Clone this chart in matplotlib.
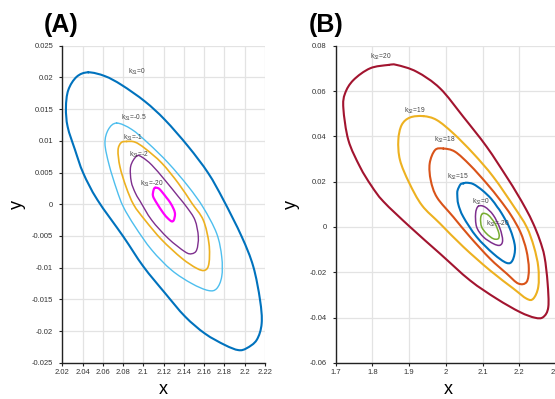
import numpy as np
import matplotlib
matplotlib.use("Agg")
import matplotlib.pyplot as plt
from matplotlib.path import Path
from matplotlib.patches import PathPatch

plt.rcParams['font.family'] = ['Liberation Sans', 'DejaVu Sans']
plt.rcParams['mathtext.default'] = 'regular'
plt.rcParams['axes.unicode_minus'] = False

# ---------------- Panel A data (k31 loops) ----------------
a_k0_x = [2.0457, 2.0621, 2.0786, 2.1016, 2.1213, 2.1443, 2.1640, 2.1789, 2.1970, 2.2084, 2.2151,
          2.2167, 2.2118, 2.2019, 2.1937, 2.1805, 2.1608, 2.1411, 2.1213, 2.0999, 2.0802, 2.0546,
          2.0407, 2.0325, 2.0253, 2.0236, 2.0259, 2.0342]
a_k0_y = [0.0208, 0.0202, 0.0188, 0.0162, 0.0133, 0.0091, 0.0049, 0.0007, -0.0051, -0.0098, -0.0151,
          -0.0188, -0.0214, -0.0227, -0.0230, -0.0222, -0.0204, -0.0177, -0.0140, -0.0098, -0.0051, 0.0007,
          0.0049, 0.0086, 0.0122, 0.0152, 0.0180, 0.0201]

a_km05_x = [2.0737, 2.0885, 2.1049, 2.1246, 2.1443, 2.1590, 2.1723, 2.1773, 2.1773, 2.1723, 2.1640,
            2.1477, 2.1279, 2.1082, 2.0917, 2.0802, 2.0737, 2.0662, 2.0621, 2.0655]
a_km05_y = [0.0128, 0.0118, 0.0096, 0.0065, 0.0028, -0.0005, -0.0046, -0.0083, -0.0114, -0.0133, -0.0136,
            -0.0125, -0.0104, -0.0072, -0.0035, -0.0004, 0.0023, 0.0062, 0.0096, 0.0118]

a_km1_x = [2.0835, 2.0917, 2.1016, 2.1181, 2.1345, 2.1477, 2.1591, 2.1647, 2.1647, 2.1608, 2.1526,
           2.1378, 2.1181, 2.1016, 2.0905, 2.0830, 2.0769, 2.0750, 2.0780]
a_km1_y = [0.0099, 0.0098, 0.0088, 0.0065, 0.0033, 0.0002, -0.0025, -0.0062, -0.0093, -0.0104, -0.0101,
           -0.0085, -0.0056, -0.0025, -0.0001, 0.0027, 0.0059, 0.0085, 0.0097]

a_km2_x = [2.0934, 2.0989, 2.1082, 2.1213, 2.1345, 2.1430, 2.1509, 2.1542, 2.1526, 2.1477, 2.1411,
           2.1246, 2.1082, 2.0967, 2.0920, 2.0880, 2.0875]
a_km2_y = [0.0076, 0.0074, 0.0062, 0.0038, 0.0012, -0.0005, -0.0025, -0.0051, -0.0072, -0.0078, -0.0075,
           -0.0054, -0.0025, 0.0005, 0.0018, 0.0036, 0.0060]

a_km20_x = [2.1115, 2.1150, 2.1181, 2.1230, 2.1263, 2.1300, 2.1312, 2.1300, 2.1279, 2.1240, 2.1197,
            2.1131, 2.1095, 2.1100]
a_km20_y = [0.0026, 0.0025, 0.0020, 0.0010, 0.0003, -0.0008, -0.0016, -0.0025, -0.0027, -0.0022, -0.0014,
            0.0002, 0.0013, 0.0022]

a_labels = ["k$_{31}$=0", "k$_{31}$=-0.5", "k$_{31}$=-1", "k$_{31}$=-2", "k$_{31}$=-20"]
a_label_x = [2.0845, 2.0776, 2.0802, 2.0861, 2.0967]
a_label_y = [0.0209, 0.01357, 0.0105, 0.0078, 0.00315]

a_xticks = [2.02, 2.04, 2.06, 2.08, 2.10, 2.12, 2.14, 2.16, 2.18, 2.20, 2.22]
a_yticks = [-0.025, -0.02, -0.015, -0.01, -0.005, 0, 0.005, 0.01, 0.015, 0.02, 0.025]

# ---------------- Panel B data (k32 loops) ----------------
b_k20_x = [1.8434, 1.8661, 1.9205, 1.9840, 2.0476, 2.1111, 2.1655, 2.1924, 2.2177, 2.2381, 2.2556,
           2.2687, 2.2771, 2.2790, 2.2653, 2.2427, 2.2018, 2.1383, 2.0657, 1.9840, 1.9024, 1.8300,
           1.7970, 1.7662, 1.7345, 1.7209, 1.7254, 1.7481, 1.7935]
b_k20_y = [0.0715, 0.0715, 0.0685, 0.0612, 0.0486, 0.0354, 0.0221, 0.0151, 0.0080, 0.0014, -0.0057,
           -0.0132, -0.0247, -0.0354, -0.0398, -0.0401, -0.0376, -0.0317, -0.0236, -0.0118, 0.0000, 0.0112,
           0.0182, 0.0265, 0.0383, 0.0523, 0.0589, 0.0648, 0.0700]

b_k19_x = [1.9387, 1.9750, 2.0203, 2.0748, 2.1292, 2.1860, 2.2200, 2.2399, 2.2517, 2.2517, 2.2381,
           2.2200, 2.1837, 2.1202, 2.0476, 1.9840, 1.9350, 1.9000, 1.8751, 1.8706, 1.8797, 1.9024]
b_k19_y = [0.0489, 0.0472, 0.0413, 0.0324, 0.0221, 0.0088, 0.0000, -0.0088, -0.0177, -0.0265, -0.0317,
           -0.0317, -0.0272, -0.0192, -0.0088, 0.0015, 0.0095, 0.0195, 0.0295, 0.0383, 0.0450, 0.0483]

b_k18_x = [1.9931, 2.0249, 2.0657, 2.1111, 2.1466, 2.1777, 2.2033, 2.2193, 2.2260, 2.2200, 2.1973,
           2.1655, 2.1202, 2.0657, 2.0203, 1.9760, 1.9590, 1.9560, 1.9705]
b_k18_y = [0.0346, 0.0332, 0.0273, 0.0192, 0.0121, 0.0051, -0.0024, -0.0103, -0.0185, -0.0243, -0.0250,
           -0.0206, -0.0140, -0.0044, 0.0044, 0.0130, 0.0205, 0.0280, 0.0339]

b_k15_x = [2.0476, 2.0566, 2.0748, 2.0990, 2.1230, 2.1400, 2.1523, 2.1750, 2.1882, 2.1818, 2.1655,
           2.1292, 2.0838, 2.0476, 2.0339, 2.0312, 2.0321, 2.0400]
b_k15_y = [0.0192, 0.0195, 0.0189, 0.0162, 0.0125, 0.0088, 0.0059, -0.0010, -0.0088, -0.0147, -0.0159,
           -0.0118, -0.0044, 0.0044, 0.0100, 0.0140, 0.0162, 0.0188]

b_k0_x = [2.0884, 2.1065, 2.1292, 2.1474, 2.1546, 2.1474, 2.1292, 2.1020, 2.0838, 2.0811]
b_k0_y = [0.0091, 0.0088, 0.0052, -0.0007, -0.0059, -0.0081, -0.0074, -0.0044, 0.0000, 0.0059]

b_km20_x = [2.1002, 2.1156, 2.1338, 2.1447, 2.1428, 2.1292, 2.1111, 2.0975, 2.0947]
b_km20_y = [0.0059, 0.0052, 0.0015, -0.0030, -0.0052, -0.0052, -0.0030, 0.0000, 0.0037]

b_labels = ["k$_{32}$=20", "k$_{32}$=19", "k$_{32}$=18", "k$_{32}$=15", "k$_{32}$=0", "k$_{32}$=-20"]
b_label_x = [1.7935, 1.886, 1.9677, 2.004, 2.0705, 2.1095]
b_label_y = [0.0749, 0.0513, 0.0384, 0.0221, 0.0110, 0.0012]

b_xticks = [1.7, 1.8, 1.9, 2.0, 2.1, 2.2, 2.3]
b_yticks = [-0.06, -0.04, -0.02, 0, 0.02, 0.04, 0.06, 0.08]

BLUE = '#0072BD'; LBLUE = '#4DBEEE'; ORANGE = '#EDB120'; PURPLE = '#7E2F8E'
MAGENTA = '#FF00FF'; DRED = '#A2142F'; RED = '#D95319'; GREEN = '#77AC30'

fig = plt.figure(figsize=(5.55, 3.99), dpi=100)
W, H = 555.0, 399.0
axA = fig.add_axes([62.3 / W, 1 - 362.8 / H, 202.7 / W, 317.1 / H])
axB = fig.add_axes([335.7 / W, 1 - 362.8 / H, 220.3 / W, 317.1 / H])


def smooth_loop(ax, xs, ys, color, lw):
    """Closed smooth path through the read points (Catmull-Rom as cubic Bezier)."""
    p = np.column_stack([xs, ys]).astype(float)
    n = len(p)
    verts = [p[0]]
    codes = [Path.MOVETO]
    for i in range(n):
        p0, p1, p2, p3 = p[i - 1], p[i], p[(i + 1) % n], p[(i + 2) % n]
        c1 = p1 + (p2 - p0) / 6.0
        c2 = p2 - (p3 - p1) / 6.0
        verts += [c1, c2, p2]
        codes += [Path.CURVE4] * 3
    patch = PathPatch(Path(verts, codes), facecolor='none', edgecolor=color, lw=lw,
                      joinstyle='round', capstyle='round')
    ax.add_patch(patch)


def style(ax, xt, yt):
    ax.set_xticks(xt)
    ax.set_yticks(yt)
    ax.set_xlim(xt[0], xt[-1])
    ax.set_ylim(yt[0], yt[-1])
    ax.xaxis.set_major_formatter(matplotlib.ticker.FormatStrFormatter('%g'))
    ax.yaxis.set_major_formatter(matplotlib.ticker.FormatStrFormatter('%g'))
    ax.grid(True, color='#e3e3e3', lw=0.9)
    ax.set_axisbelow(True)
    for s in ['top', 'right']:
        ax.spines[s].set_visible(False)
    for s in ['left', 'bottom']:
        ax.spines[s].set_linewidth(1.0)
        ax.spines[s].set_color('#222222')
    ax.tick_params(axis='both', direction='out', length=2, width=0.8, labelsize=5.5,
                   labelcolor='#333333', color='#222222')
    ax.tick_params(axis='x', pad=2.5)
    ax.tick_params(axis='y', pad=4.5)
    ax.set_xlabel('x', fontsize=13)
    ax.set_ylabel('y', fontsize=13)
    ax.xaxis.label.set_va('center')
    ax.yaxis.label.set_va('center')


style(axA, a_xticks, a_yticks)
style(axB, b_xticks, b_yticks)

for xs, ys, c, lw in [(a_k0_x, a_k0_y, BLUE, 1.5), (a_km05_x, a_km05_y, LBLUE, 1.0),
                      (a_km1_x, a_km1_y, ORANGE, 1.2), (a_km2_x, a_km2_y, PURPLE, 1.0),
                      (a_km20_x, a_km20_y, MAGENTA, 1.6)]:
    smooth_loop(axA, xs, ys, c, lw)

for xs, ys, c, lw in [(b_k20_x, b_k20_y, DRED, 1.5), (b_k19_x, b_k19_y, ORANGE, 1.5),
                      (b_k18_x, b_k18_y, RED, 1.5), (b_k15_x, b_k15_y, BLUE, 1.5),
                      (b_k0_x, b_k0_y, PURPLE, 1.1), (b_km20_x, b_km20_y, GREEN, 1.1)]:
    smooth_loop(axB, xs, ys, c, lw)

for t, x, y in zip(a_labels, a_label_x, a_label_y):
    axA.text(x, y, t, fontsize=4.8, color='#444444', ha='left', va='center')
for t, x, y in zip(b_labels, b_label_x, b_label_y):
    axB.text(x, y, t, fontsize=4.8, color='#444444', ha='left', va='center')

axA.xaxis.set_label_coords(0.5, (362.8 - 390) / 317.1)
axA.yaxis.set_label_coords((17 - 62.3) / 202.7, 0.5)
axB.xaxis.set_label_coords((448 - 335.7) / 220.3, (362.8 - 390) / 317.1)
axB.yaxis.set_label_coords((291 - 335.7) / 220.3, 0.5)

fig.text(61 / W, 1 - 25 / H, '(A)', fontsize=18, fontweight='bold', ha='center', va='center')
fig.text(326 / W, 1 - 25 / H, '(B)', fontsize=18, fontweight='bold', ha='center', va='center')

fig.savefig('out.png', dpi=100)
